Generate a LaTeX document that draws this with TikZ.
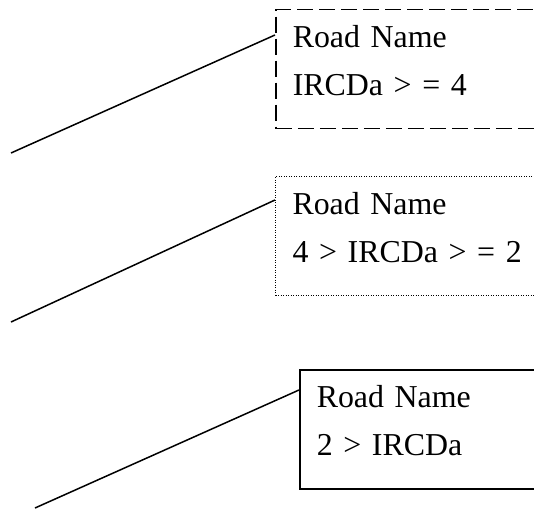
\documentclass[tikz,border=0pt]{standalone}
\usepackage{fontspec}
\setmainfont{Liberation Serif}
\begin{document}
\begin{tikzpicture}[x=1bp, y=-1bp, line width=1.5bp, font=\fontsize{32}{48}\selectfont,
	roadbox/.style={draw, anchor=north west, text width=266bp, align=left, inner xsep=17bp, inner ysep=16bp, text height=22bp, text depth=65bp}]
	\clip (0,0) rectangle (534,513);
	\node[roadbox, dash pattern=on 16bp off 6bp] (high) at (275,9) {Road Name\\IRCDa > = 4};
	\node[roadbox, line width=1bp, dash pattern=on 1bp off 1.5bp] (mid) at (275,176) {Road Name\\4 > IRCDa > = 2};
	\node[roadbox] (low) at (299,369) {Road Name\\2 > IRCDa};
	\foreach \n/\x/\y/\d in {high/11/153/26, mid/11/322/24, low/35/508/21}
	{\coordinate (\n0) at (\x,\y);
	\draw (\n0) -- ([yshift=-\d bp]\n.north west);}
\end{tikzpicture}
\end{document}
